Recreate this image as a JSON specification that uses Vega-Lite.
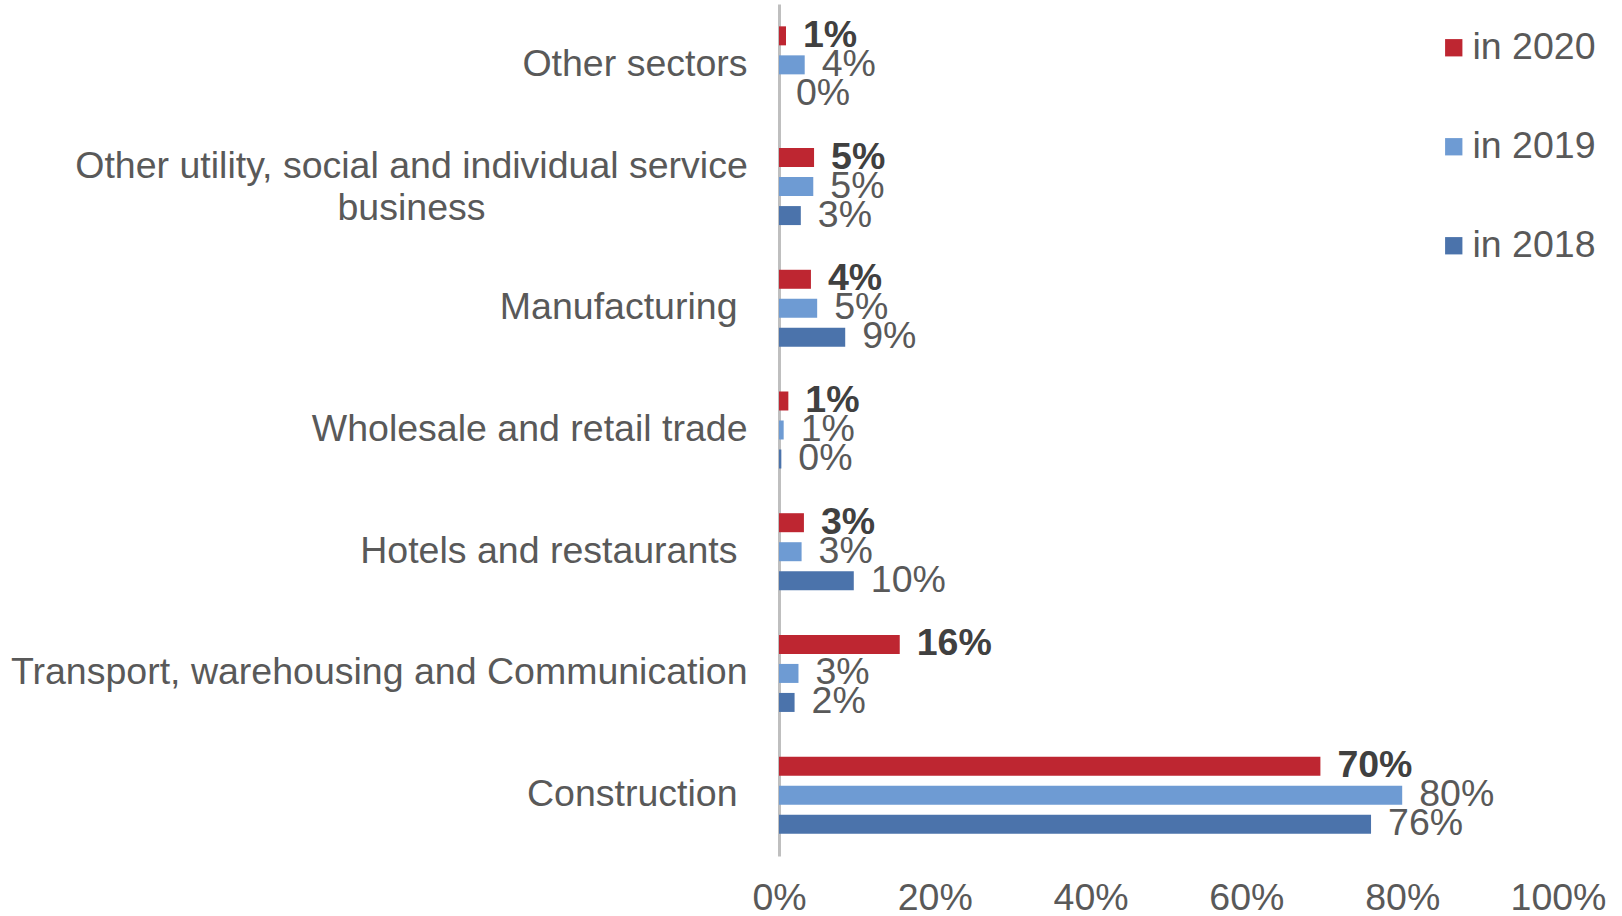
{
  "$schema": "https://vega.github.io/schema/vega-lite/v6.json",
  "autosize": {"type": "none"},
  "padding": {"left": 779, "top": 4, "right": 64, "bottom": 60},
  "width": 779,
  "height": 852,
  "background": "white",
  "config": {
    "view": {"stroke": null},
    "font": "Liberation Sans",
    "text": {"font": "Liberation Sans"}
  },
  "data": {
    "values": [
      {"sector": "Other sectors", "year": "in 2020", "value": 0.9, "label": "1%"},
      {"sector": "Other sectors", "year": "in 2019", "value": 3.3, "label": "4%"},
      {"sector": "Other sectors", "year": "in 2018", "value": 0, "label": "0%"},
      {"sector": "Other utility, social and individual service business", "year": "in 2020", "value": 4.5, "label": "5%"},
      {"sector": "Other utility, social and individual service business", "year": "in 2019", "value": 4.4, "label": "5%"},
      {"sector": "Other utility, social and individual service business", "year": "in 2018", "value": 2.8, "label": "3%"},
      {"sector": "Manufacturing", "year": "in 2020", "value": 4.1, "label": "4%"},
      {"sector": "Manufacturing", "year": "in 2019", "value": 4.9, "label": "5%"},
      {"sector": "Manufacturing", "year": "in 2018", "value": 8.5, "label": "9%"},
      {"sector": "Wholesale and retail trade", "year": "in 2020", "value": 1.2, "label": "1%"},
      {"sector": "Wholesale and retail trade", "year": "in 2019", "value": 0.6, "label": "1%"},
      {"sector": "Wholesale and retail trade", "year": "in 2018", "value": 0.3, "label": "0%"},
      {"sector": "Hotels and restaurants", "year": "in 2020", "value": 3.2, "label": "3%"},
      {"sector": "Hotels and restaurants", "year": "in 2019", "value": 2.9, "label": "3%"},
      {"sector": "Hotels and restaurants", "year": "in 2018", "value": 9.6, "label": "10%"},
      {"sector": "Transport, warehousing and Communication", "year": "in 2020", "value": 15.5, "label": "16%"},
      {"sector": "Transport, warehousing and Communication", "year": "in 2019", "value": 2.5, "label": "3%"},
      {"sector": "Transport, warehousing and Communication", "year": "in 2018", "value": 2.0, "label": "2%"},
      {"sector": "Construction", "year": "in 2020", "value": 69.5, "label": "70%"},
      {"sector": "Construction", "year": "in 2019", "value": 80, "label": "80%"},
      {"sector": "Construction", "year": "in 2018", "value": 76, "label": "76%"}
    ]
  },
  "encoding": {
    "y": {
      "field": "sector",
      "type": "nominal",
      "sort": null,
      "title": null,
      "scale": {"paddingInner": 0.285, "paddingOuter": 0.1425},
      "axis": {
        "domainColor": "#BFBFBF",
        "domainWidth": 3,
        "ticks": false,
        "labelFontSize": 37.5,
        "labelColor": "#595959",
        "labelFont": "Liberation Sans",
        "labelPadding": {
          "condition": [
            {"test": "datum.value == 'Other utility, social and individual service business'", "value": 368},
            {"test": "datum.value == 'Manufacturing' || datum.value == 'Hotels and restaurants' || datum.value == 'Construction'", "value": 42}
          ],
          "value": 32
        },
        "labelAlign": {
          "condition": {"test": "datum.value == 'Other utility, social and individual service business'", "value": "center"},
          "value": "right"
        },
        "labelOffset": {
          "condition": {"test": "datum.value == 'Other utility, social and individual service business'", "value": -20},
          "value": 0
        },
        "labelLimit": 800,
        "labelLineHeight": 42,
        "labelExpr": "datum.value == 'Other utility, social and individual service business' ? ['Other utility, social and individual service', 'business'] : datum.value"
      }
    },
    "yOffset": {
      "field": "year",
      "type": "nominal",
      "sort": ["in 2020", "in 2019", "in 2018"],
      "scale": {"paddingInner": 0.345, "paddingOuter": 0.1725}
    },
    "x": {
      "field": "value",
      "type": "quantitative",
      "title": null,
      "scale": {"domain": [0, 100], "nice": false},
      "axis": {
        "values": [0, 20, 40, 60, 80, 100],
        "labelExpr": "datum.value + '%'",
        "domain": false,
        "ticks": false,
        "grid": false,
        "labelFontSize": 37.5,
        "labelColor": "#595959",
        "labelFont": "Liberation Sans",
        "labelPadding": 23,
        "labelFlush": false
      }
    }
  },
  "layer": [
    {
      "mark": {"type": "bar"},
      "encoding": {
        "color": {
          "field": "year",
          "type": "nominal",
          "scale": {"domain": ["in 2020", "in 2019", "in 2018"], "range": ["#BE2631", "#6E9BD3", "#4B73AB"]},
          "legend": {
            "title": null,
            "orient": "none",
            "legendX": 656,
            "legendY": 25,
            "padding": 0,
            "symbolType": "square",
            "symbolSize": 300,
            "symbolStrokeWidth": 0,
            "labelFontSize": 37.5,
            "labelFont": "Liberation Sans",
            "labelColor": "#595959",
            "labelOffset": 0,
            "rowPadding": 60,
            "labelLimit": 300
          }
        }
      }
    },
    {
      "transform": [{"filter": "datum.year == 'in 2020'"}],
      "mark": {"type": "text", "align": "left", "baseline": "middle", "dx": 17, "fontSize": 37.5, "fontWeight": "bold", "color": "#404040", "font": "Liberation Sans"},
      "encoding": {"text": {"field": "label"}}
    },
    {
      "transform": [{"filter": "datum.year != 'in 2020'"}],
      "mark": {"type": "text", "align": "left", "baseline": "middle", "dx": 17, "fontSize": 37.5, "color": "#595959", "font": "Liberation Sans"},
      "encoding": {"text": {"field": "label"}}
    }
  ]
}
